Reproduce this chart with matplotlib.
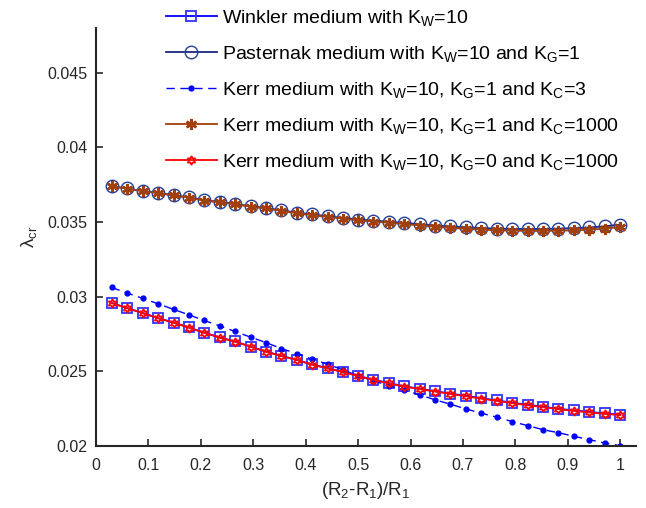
#!/usr/bin/env python3

import numpy as np
import matplotlib
matplotlib.use("Agg")
import matplotlib.pyplot as plt

plt.rcParams['font.family'] = ['Liberation Sans', 'DejaVu Sans']
plt.rcParams['mathtext.default'] = 'regular'

# (R2-R1)/R1 grid, 34 points
x = [0.030, 0.059, 0.089, 0.118, 0.148, 0.177, 0.206, 0.236, 0.265, 0.295,
     0.324, 0.353, 0.383, 0.412, 0.442, 0.471, 0.500, 0.529, 0.559, 0.588,
     0.618, 0.647, 0.676, 0.706, 0.735, 0.765, 0.794, 0.824, 0.853, 0.882,
     0.912, 0.941, 0.971, 1.000]

winkler = [0.02958, 0.02924, 0.02891, 0.02857, 0.02827, 0.02794, 0.02760, 0.02727,
           0.02700, 0.02666, 0.02633, 0.02604, 0.02577, 0.02546, 0.02521, 0.02497,
           0.02470, 0.02445, 0.02421, 0.02400, 0.02383, 0.02367, 0.02351, 0.02336,
           0.02320, 0.02305, 0.02290, 0.02276, 0.02263, 0.02250, 0.02238, 0.02228,
           0.02218, 0.02210]

pasternak = [0.03740, 0.03725, 0.03708, 0.03696, 0.03680, 0.03666, 0.03646, 0.03635,
             0.03622, 0.03606, 0.03595, 0.03579, 0.03563, 0.03551, 0.03539, 0.03528,
             0.03517, 0.03510, 0.03502, 0.03495, 0.03485, 0.03477, 0.03471, 0.03465,
             0.03460, 0.03456, 0.03454, 0.03454, 0.03454, 0.03456, 0.03459, 0.03464,
             0.03472, 0.03483]

kerr_kc3 = [0.03062, 0.03025, 0.02989, 0.02953, 0.02915, 0.02879, 0.02841, 0.02805,
            0.02767, 0.02729, 0.02693, 0.02653, 0.02619, 0.02582, 0.02548, 0.02510,
            0.02470, 0.02436, 0.02405, 0.02374, 0.02342, 0.02309, 0.02280, 0.02248,
            0.02219, 0.02193, 0.02163, 0.02136, 0.02109, 0.02089, 0.02065, 0.02042,
            0.02020, 0.02002]

kerr_kg1 = [0.03740, 0.03724, 0.03707, 0.03694, 0.03678, 0.03664, 0.03644, 0.03632,
            0.03619, 0.03603, 0.03591, 0.03575, 0.03559, 0.03546, 0.03534, 0.03523,
            0.03511, 0.03503, 0.03495, 0.03487, 0.03477, 0.03468, 0.03461, 0.03455,
            0.03449, 0.03445, 0.03442, 0.03441, 0.03441, 0.03442, 0.03445, 0.03449,
            0.03456, 0.03467]

kerr_kg0 = [0.02958, 0.02924, 0.02890, 0.02856, 0.02826, 0.02793, 0.02759, 0.02726,
            0.02699, 0.02665, 0.02632, 0.02603, 0.02576, 0.02545, 0.02520, 0.02495,
            0.02468, 0.02443, 0.02419, 0.02398, 0.02381, 0.02365, 0.02349, 0.02333,
            0.02317, 0.02302, 0.02287, 0.02273, 0.02260, 0.02247, 0.02235, 0.02225,
            0.02215, 0.02207]

labels = ['Winkler medium with K$_W$=10',
          'Pasternak medium with K$_W$=10 and K$_G$=1',
          'Kerr medium with K$_W$=10, K$_G$=1 and K$_C$=3',
          'Kerr medium with K$_W$=10, K$_G$=1 and K$_C$=1000',
          'Kerr medium with K$_W$=10, K$_G$=0 and K$_C$=1000']

fig = plt.figure(figsize=(6.46, 5.08), dpi=100)
ax = fig.add_axes([96/646, 62/508, 540/646, 418/508])

brown = (0.63, 0.25, 0.05)
navy = (0.15, 0.25, 0.6)

ax.plot(x, winkler, '-', color='blue', lw=1.3, marker='s', ms=7.5,
        mfc='none', mec=(0.2, 0.2, 1.0), mew=1.3, label=labels[0])
ax.plot(x, pasternak, '-', color=(0.1, 0.15, 0.5), lw=1.3, marker='o', ms=9,
        mfc='none', mec=navy, mew=1.0, label=labels[1])
ax.plot(x, kerr_kc3, '--', color='blue', lw=1.0, marker='.', ms=7,
        dashes=(6, 4), label=labels[2])
ax.plot(x, kerr_kg1, '-', color=brown, lw=1.3, marker=(6, 2, 0), ms=8,
        mew=1.8, mec=brown, label=labels[3])
ax.plot(x, kerr_kg0, '-', color='red', lw=1.3, marker=(6, 1, 0), ms=6.5,
        mfc='none', mec='red', mew=1.2, label=labels[4])

ax.set_xlim(0, 1.03)
ax.set_ylim(0.02, 0.048)
ax.set_xticks(np.arange(0, 1.01, 0.1))
ax.set_xticklabels(['0', '0.1', '0.2', '0.3', '0.4', '0.5', '0.6', '0.7', '0.8', '0.9', '1'])
ax.set_yticks([0.02, 0.025, 0.03, 0.035, 0.04, 0.045])
ax.set_yticklabels(['0.02', '0.025', '0.03', '0.035', '0.04', '0.045'])

for side in ['top', 'right']:
    ax.spines[side].set_visible(False)
for side in ['left', 'bottom']:
    ax.spines[side].set_linewidth(1.5)
    ax.spines[side].set_color('#262626')
ax.tick_params(direction='in', length=5, width=1.2, colors='#262626',
               labelsize=11.5, labelcolor='#262626')
ax.tick_params(axis='x', pad=9)
ax.tick_params(axis='y', pad=6)

ax.set_xlabel('(R$_2$-R$_1$)/R$_1$', fontsize=13.5, color='#262626', labelpad=5)
ax.set_ylabel('λ$_{cr}$', fontsize=13.5, color='#262626', labelpad=6)

ax.legend(loc='upper left', bbox_to_anchor=(166/646, 1 - 8/508),
          bbox_transform=fig.transFigure, frameon=False, fontsize=14,
          handlelength=2.6, handletextpad=0.3, labelspacing=0.82,
          borderpad=0, borderaxespad=0)

fig.savefig('out.png', dpi=100)
